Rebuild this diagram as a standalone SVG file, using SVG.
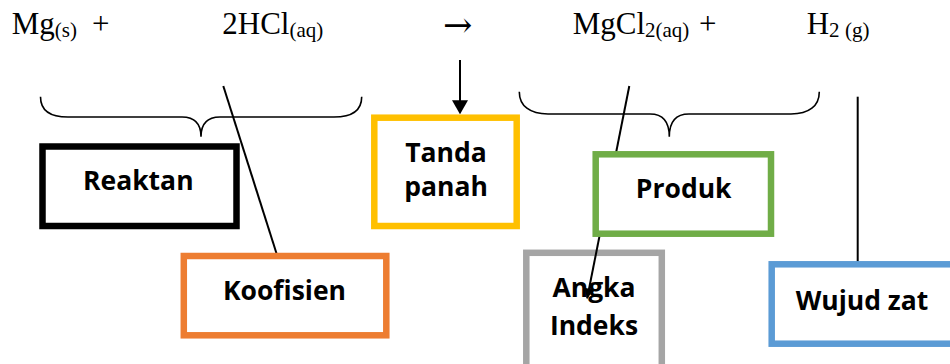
<svg xmlns="http://www.w3.org/2000/svg" width="950" height="364" viewBox="0 0 950 364">
<style>
.eq{font-family:"Liberation Serif","Times New Roman",serif;font-size:31px;fill:#000}
.sub{font-size:21px}
.arr{font-family:"DejaVu Serif","DejaVu Sans",serif;font-size:35px;fill:#000}
.lbl{font-family:"Open Sans","Liberation Sans",sans-serif;font-weight:700;font-size:26.5px;fill:#000;text-anchor:middle}
.box{fill:#fff;stroke-width:6.5}
.brace{fill:none;stroke:#000;stroke-width:1.6}
.ln{fill:none;stroke:#000;stroke-width:2}
</style>
<defs>
<marker id="ahBig" markerUnits="userSpaceOnUse" viewBox="0 0 14 16" markerWidth="14" markerHeight="16" refX="12" refY="8" orient="auto">
<path d="M0,0 L14,8 L0,16 z" fill="#000"/>
</marker>
<marker id="ahSmall" markerUnits="userSpaceOnUse" viewBox="0 0 11 9" markerWidth="11" markerHeight="9" refX="9.5" refY="4.5" orient="auto">
<path d="M0,0 L11,4.5 L0,9 z" fill="#000"/>
</marker>
</defs>
<rect width="950" height="364" fill="#fff"/>
<g id="equation">
<text class="eq" x="11.7" y="34.3">Mg<tspan class="sub" dy="2.5">(s)</tspan></text>
<text class="eq" x="92" y="34.3">+</text>
<text class="eq" x="222.3" y="34.3">2HCl<tspan class="sub" dy="2.5">(aq)</tspan></text>
<text class="arr" x="443" y="37">→</text>
<text class="eq" x="572.7" y="34.3">MgCl<tspan class="sub" dy="2.5">2(aq)</tspan></text>
<text class="eq" x="699" y="34.3">+</text>
<text class="eq" x="806.7" y="34.3">H<tspan class="sub" dy="2.5">2</tspan></text>
<text class="eq sub" x="845" y="36.8">(g)</text>
</g>
<g id="braces">
<path class="brace" d="M40.5,96.7 C40.5,110 50,117 68,117 L182,117 C195,117 201,124 201,136.7 C201,124 207,117 220,117 L334,117 C352,117 361.7,110 361.7,96.7"/>
<path class="brace" d="M519.3,91.7 C519.3,106 530,114 548,114 L650,114 C663,114 669.3,122 669.3,136.7 C669.3,122 676,114 689,114 L791,114 C809,114 819.3,106 819.3,91.7"/>
</g>
<g id="connectors">
<line class="ln" x1="223.3" y1="86" x2="276.7" y2="254"/>
<line class="ln" x1="857.7" y1="96.7" x2="857.7" y2="262"/>
<line class="ln" x1="460" y1="60" x2="460" y2="112.3" marker-end="url(#ahBig)"/>
</g>
<g id="node-angka">
<rect class="box" x="526.3" y="252.8" width="135.5" height="140" stroke="#A5A5A5"/>
<text class="lbl" x="594" y="296.7">Angka</text>
<text class="lbl" x="594" y="335">Indeks</text>
</g>
<g id="connector-angka">
<line class="ln" x1="629.3" y1="86" x2="587.2" y2="298" marker-end="url(#ahSmall)"/>
</g>
<g id="node-reaktan">
<rect class="box" x="42.5" y="146.5" width="194" height="79.5" stroke="#000"/>
<text class="lbl" x="138.3" y="190">Reaktan</text>
</g>
<g id="node-koofisien">
<rect class="box" x="183.8" y="256" width="202.5" height="79.3" stroke="#ED7D31"/>
<text class="lbl" x="284.5" y="300">Koofisien</text>
</g>
<g id="node-tanda">
<rect class="box" x="374.3" y="117.7" width="142.4" height="108.3" stroke="#FFC000"/>
<text class="lbl" x="446" y="162.3">Tanda</text>
<text class="lbl" x="446" y="196">panah</text>
</g>
<g id="node-produk">
<rect class="box" x="595.7" y="154.3" width="175.3" height="79.4" stroke="#70AD47"/>
<text class="lbl" x="683.7" y="198.3">Produk</text>
</g>
<g id="node-wujud">
<rect class="box" x="771.7" y="264.3" width="200" height="79.4" stroke="#5B9BD5"/>
<text class="lbl" x="862" y="310">Wujud zat</text>
</g>
</svg>
